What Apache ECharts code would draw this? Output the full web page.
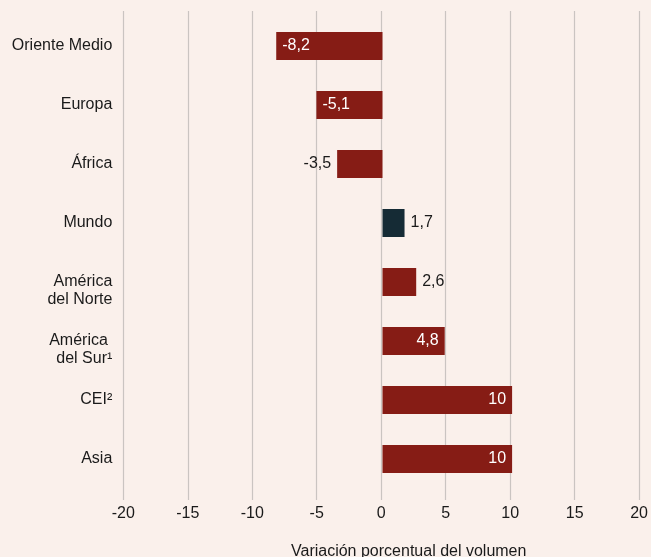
<!DOCTYPE html>
<html>
<head>
<meta charset="utf-8">
<script src="https://cdn.jsdelivr.net/npm/echarts@6/dist/echarts.min.js"></script>
<style>
html,body{margin:0;padding:0;background:#faf0eb;}
#chart{width:651px;height:557px;}
</style>
</head>
<body>
<div id="chart"></div>
<script>
const categories = ['Oriente Medio', 'Europa', 'África', 'Mundo', 'América\ndel Norte', 'América \ndel Sur¹', 'CEI²', 'Asia'];
const values = [-8.2, -5.1, -3.5, 1.7, 2.6, 4.8, 10, 10];
const xTicks = [-20, -15, -10, -5, 0, 5, 10, 15, 20];
const axisTitle = 'Variación porcentual del volumen';
const highlightCategory = 'Mundo';

const RED = '#861c15', NAVY = '#152b35', TEXT = '#1a1a1a', GRID = '#cac4c1';
const FONT = '"Liberation Sans", Arial, sans-serif';

const fmt = v => String(v).replace('.', ',');

const barData = values.map((v, i) => {
  const inside = Math.abs(v) > 4;
  let position;
  if (v < 0) position = inside ? 'insideLeft' : 'left';
  else position = inside ? 'insideRight' : 'right';
  return {
    value: v,
    itemStyle: { color: categories[i] === highlightCategory ? NAVY : RED },
    label: {
      position: position,
      color: inside ? '#ffffff' : TEXT,
      distance: 6
    }
  };
});

const chart = echarts.init(document.getElementById('chart'), null, { renderer: 'canvas' });
chart.setOption({
  backgroundColor: '#faf0eb',
  animation: false,
  textStyle: { fontFamily: FONT },
  grid: [
    { left: 123.3, right: 9.3, top: 11, bottom: 57 },
    { left: 123.3, right: 9.3, top: 16.5, height: 472 }
  ],
  xAxis: [
    {
      gridIndex: 0, type: 'value', min: xTicks[0], max: xTicks[xTicks.length - 1], interval: 5,
      axisLine: { show: false }, axisTick: { show: false },
      splitLine: { show: true, lineStyle: { color: GRID, width: 1.2 } },
      axisLabel: { color: TEXT, fontSize: 16, fontFamily: FONT, margin: 6, formatter: v => fmt(v) }
    },
    {
      gridIndex: 1, type: 'value', min: xTicks[0], max: xTicks[xTicks.length - 1], interval: 5,
      show: false
    }
  ],
  yAxis: [
    { gridIndex: 0, type: 'value', show: false, splitLine: { show: false } },
    {
      gridIndex: 1, type: 'category', data: categories, inverse: true,
      axisLine: { show: false }, axisTick: { show: false }, splitLine: { show: false },
      axisLabel: {
        color: TEXT, fontSize: 16, fontFamily: FONT, margin: 11, lineHeight: 18,
        formatter: v => v.indexOf('\n') >= 0 ? '\n' + v : v
      }
    }
  ],
  series: [{
    type: 'bar',
    xAxisIndex: 1, yAxisIndex: 1,
    barWidth: 28,
    data: barData,
    label: {
      show: true, fontSize: 16, fontFamily: FONT,
      formatter: p => fmt(p.value)
    }
  }],
  graphic: [{
    type: 'text',
    left: 291, top: 544,
    style: { text: axisTitle, fill: TEXT, font: '16px ' + FONT }
  }]
});
</script>
</body>
</html>
